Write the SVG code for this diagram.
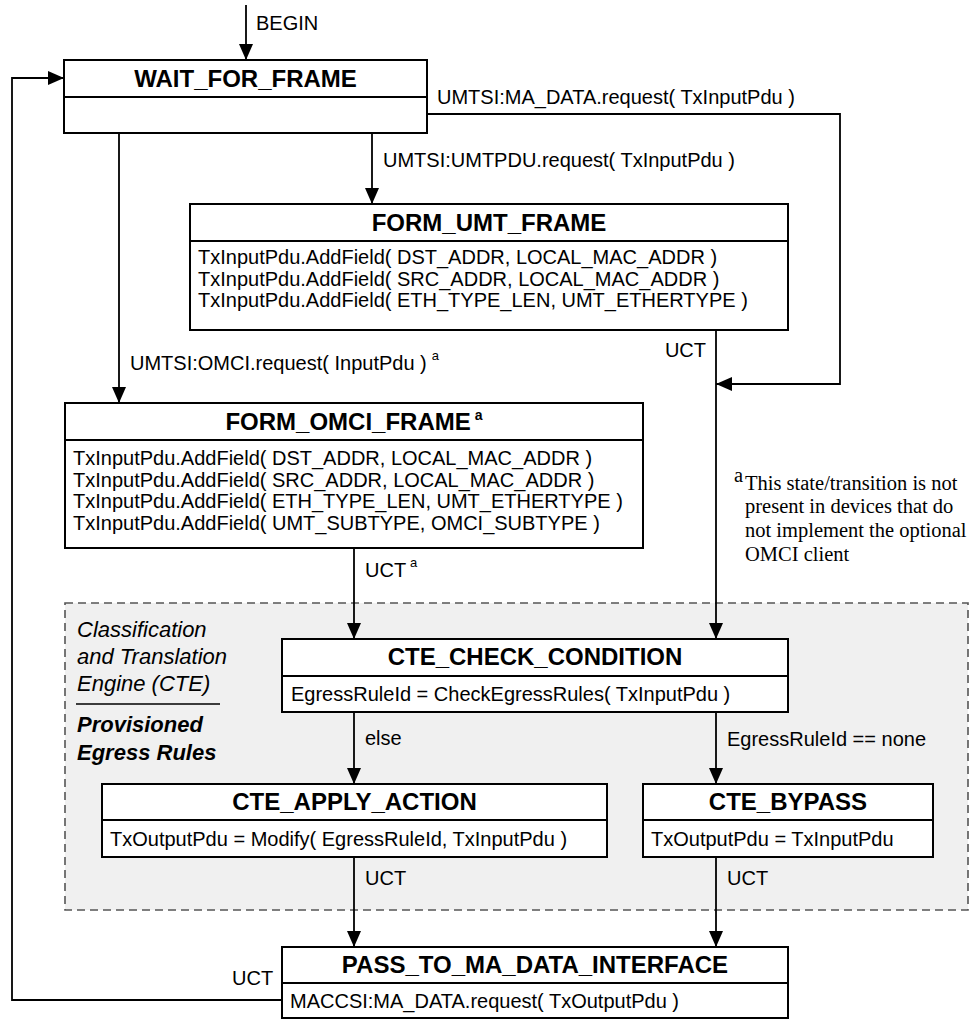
<svg xmlns="http://www.w3.org/2000/svg" width="973" height="1024" viewBox="0 0 973 1024">
<defs>
<marker id="ah" markerWidth="16" markerHeight="14" refX="16" refY="7" orient="auto" markerUnits="userSpaceOnUse"><path d="M0,0 L16,7 L0,14 z" fill="#000"/></marker>
<style>
.box{fill:#fff;stroke:#000;stroke-width:2}
.div{stroke:#000;stroke-width:2}
.ttl{font-family:"Liberation Sans",Arial,sans-serif;font-size:24px;font-weight:bold;text-anchor:middle}
.bd{font-family:"Liberation Sans",Arial,sans-serif;font-size:20px}
.lbl{font-family:"Liberation Sans",Arial,sans-serif;font-size:20px}
.con{fill:none;stroke:#000;stroke-width:1.8}
.arr{marker-end:url(#ah)}
.fn{font-family:"Liberation Serif","Times New Roman",serif;font-size:20.5px}
.it{font-family:"Liberation Sans",Arial,sans-serif;font-size:22px;font-style:italic}
</style>
</defs>
<rect width="973" height="1024" fill="#fff"/>
<g id="cte-region">
<rect x="65" y="603" width="903" height="307" fill="#f0f0f0" stroke="#555" stroke-width="1.6" stroke-dasharray="8,5"/>
<text class="it" x="77" y="637">Classification</text>
<text class="it" x="77" y="664">and Translation</text>
<text class="it" x="77" y="691">Engine (CTE)</text>
<line x1="76" y1="704" x2="220" y2="704" stroke="#000" stroke-width="1.5"/>
<text class="it" x="77" y="732" font-weight="bold">Provisioned</text>
<text class="it" x="77" y="760" font-weight="bold">Egress Rules</text>
</g>
<g id="connectors">
<line class="con arr" x1="246" y1="5" x2="246" y2="60"/>
<line class="con arr" x1="372" y1="133" x2="372" y2="204"/>
<line class="con arr" x1="119" y1="133" x2="119" y2="403"/>
<polyline class="con arr" points="427,114 840,114 840,384 716,384"/>
<line class="con arr" x1="716" y1="330" x2="716" y2="639"/>
<line class="con arr" x1="354" y1="548" x2="354" y2="639"/>
<line class="con arr" x1="354" y1="712" x2="354" y2="784"/>
<line class="con arr" x1="716" y1="712" x2="716" y2="784"/>
<line class="con arr" x1="354" y1="857" x2="354" y2="947"/>
<line class="con arr" x1="716" y1="857" x2="716" y2="947"/>
<polyline class="con arr" points="282,1000 12,1000 12,78 64,78"/>
<text class="lbl" x="256" y="30">BEGIN</text>
<text class="lbl" x="437" y="104">UMTSI:MA_DATA.request( TxInputPdu )</text>
<text class="lbl" x="383" y="167">UMTSI:UMTPDU.request( TxInputPdu )</text>
<text class="lbl" x="130" y="370">UMTSI:OMCI.request( InputPdu )<tspan dx="5" dy="-10" font-size="13">a</tspan></text>
<text class="lbl" x="706" y="357" text-anchor="end">UCT</text>
<text class="lbl" x="365" y="577">UCT<tspan dx="4" dy="-10" font-size="13">a</tspan></text>
<text class="lbl" x="365" y="745">else</text>
<text class="lbl" x="727" y="746">EgressRuleId == none</text>
<text class="lbl" x="365" y="885">UCT</text>
<text class="lbl" x="727" y="885">UCT</text>
<text class="lbl" x="232" y="985">UCT</text>
</g>
<g id="footnote">
<text class="fn" x="734" y="482" font-size="13">a</text>
<text class="fn" x="745" y="490">This state/transition is not</text>
<text class="fn" x="745" y="513">present in devices that do</text>
<text class="fn" x="745" y="537">not implement the optional</text>
<text class="fn" x="745" y="561">OMCI client</text>
</g>
<g id="WAIT_FOR_FRAME">
<rect class="box" x="64" y="60" width="363" height="73"/>
<line class="div" x1="64" y1="97" x2="427" y2="97"/>
<text class="ttl" x="245.5" y="87">WAIT_FOR_FRAME</text>
</g>
<g id="FORM_UMT_FRAME">
<rect class="box" x="190" y="204" width="598" height="126"/>
<line class="div" x1="190" y1="241" x2="788" y2="241"/>
<text class="ttl" x="489" y="231">FORM_UMT_FRAME</text>
<text class="bd" x="198" y="264">TxInputPdu.AddField( DST_ADDR, LOCAL_MAC_ADDR )</text>
<text class="bd" x="198" y="286">TxInputPdu.AddField( SRC_ADDR, LOCAL_MAC_ADDR )</text>
<text class="bd" x="198" y="307">TxInputPdu.AddField( ETH_TYPE_LEN, UMT_ETHERTYPE )</text>
</g>
<g id="FORM_OMCI_FRAME">
<rect class="box" x="65" y="403" width="578" height="145"/>
<line class="div" x1="65" y1="440" x2="643" y2="440"/>
<text class="ttl" x="354" y="430">FORM_OMCI_FRAME<tspan dx="4" dy="-10" font-size="14">a</tspan></text>
<text class="bd" x="73" y="465">TxInputPdu.AddField( DST_ADDR, LOCAL_MAC_ADDR )</text>
<text class="bd" x="73" y="487">TxInputPdu.AddField( SRC_ADDR, LOCAL_MAC_ADDR )</text>
<text class="bd" x="73" y="508">TxInputPdu.AddField( ETH_TYPE_LEN, UMT_ETHERTYPE )</text>
<text class="bd" x="73" y="530">TxInputPdu.AddField( UMT_SUBTYPE, OMCI_SUBTYPE )</text>
</g>
<g id="CTE_CHECK_CONDITION">
<rect class="box" x="282" y="639" width="506" height="73"/>
<line class="div" x1="282" y1="676" x2="788" y2="676"/>
<text class="ttl" x="535" y="665">CTE_CHECK_CONDITION</text>
<text class="bd" x="291" y="701">EgressRuleId = CheckEgressRules( TxInputPdu )</text>
</g>
<g id="CTE_APPLY_ACTION">
<rect class="box" x="102" y="784" width="505" height="73"/>
<line class="div" x1="102" y1="820" x2="607" y2="820"/>
<text class="ttl" x="354.5" y="810">CTE_APPLY_ACTION</text>
<text class="bd" x="110" y="846">TxOutputPdu = Modify( EgressRuleId, TxInputPdu )</text>
</g>
<g id="CTE_BYPASS">
<rect class="box" x="643" y="784" width="290" height="73"/>
<line class="div" x1="643" y1="820" x2="933" y2="820"/>
<text class="ttl" x="788" y="810">CTE_BYPASS</text>
<text class="bd" x="651" y="846">TxOutputPdu = TxInputPdu</text>
</g>
<g id="PASS_TO_MA_DATA_INTERFACE">
<rect class="box" x="282" y="947" width="506" height="71"/>
<line class="div" x1="282" y1="983" x2="788" y2="983"/>
<text class="ttl" x="535" y="973">PASS_TO_MA_DATA_INTERFACE</text>
<text class="bd" x="290" y="1008">MACCSI:MA_DATA.request( TxOutputPdu )</text>
</g>
</svg>
